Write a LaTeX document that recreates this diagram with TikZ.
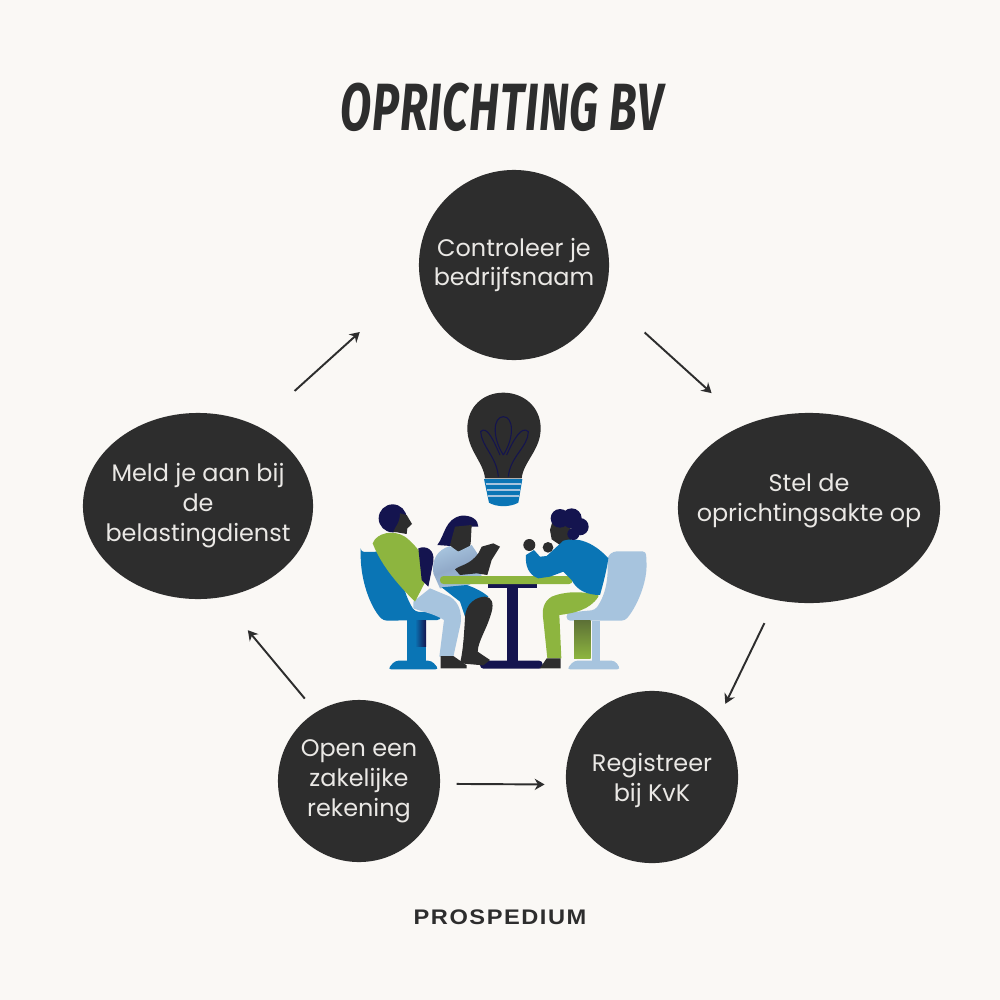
\documentclass[tikz,border=0pt]{standalone}
\usepackage{fontspec}
\usepackage{xcolor}
\usepackage{tikz}
\usetikzlibrary{arrows.meta,shapes.geometric}
\setmainfont{Poppins}
\newfontfamily\titlefont[LetterSpace=2]{Fira Sans}
\newfontfamily\merkfont[LetterSpace=6.5]{Liberation Sans}
\definecolor{paper}{HTML}{FAF8F5}
\definecolor{coal}{HTML}{2D2D2D}
\definecolor{navy}{HTML}{14144F}
\definecolor{ocean}{HTML}{0A75B5}
\definecolor{sky}{HTML}{A7C4DE}
\definecolor{lime}{HTML}{8DB53F}
\tikzset{
  stepc/.style={circle, fill=coal, text=paper!92!coal, inner sep=-1cm, align=center, font=\fontsize{6.8}{8.5}\selectfont},
  stepe/.style={ellipse, fill=coal, text=paper!92!coal, inner sep=-1cm, align=center, font=\fontsize{6.8}{8.5}\selectfont},
  flow/.style={draw=coal, line width=0.55pt, -{Stealth[length=2.8pt,width=3.2pt]}},
}
\begin{document}
\begin{tikzpicture}[x=0.01cm,y=-0.01cm]
  \fill[paper] (0,0) rectangle (1000,1000);
  \useasboundingbox (0,0) rectangle (1000,1000);

  \node[text=coal, font=\titlefont\bfseries\itshape\fontsize{19}{20}\selectfont, xscale=0.68] (titel) at (502,107) {OPRICHTING BV};

  \node[stepc, minimum size=1.9cm] (naam) at (514,265) {Controleer je\\bedrijfsnaam};
  \node[stepe, minimum width=2.62cm, minimum height=1.9cm, text depth=0.2cm] (akte) at (809,508) {Stel de\\oprichtingsakte op};
  \node[stepc, minimum size=1.7cm, text depth=-0.15cm] (kvk) at (652,777) {Registreer\\bij KvK};
  \node[stepc, minimum size=1.62cm] (rekening) at (359,781) {Open een\\zakelijke\\rekening};
  \node[stepe, minimum width=2.3cm, minimum height=1.86cm] (belasting) at (198,506) {Meld je aan bij\\de\\belastingdienst};

  \draw[flow, shorten <=0.54cm, shorten >=0.46cm] (naam.-19) -- (akte.127);
  \draw[flow, shorten <=0.25cm, shorten >=0.18cm] (akte.-110) -- (kvk.41);
  \draw[flow, shorten <=0.16cm, shorten >=0.21cm] (rekening.-2) -- (kvk.-175);
  \draw[flow, shorten <=0.17cm, shorten >=0.42cm] (rekening.122) -- (belasting.-76);
  \draw[flow, shorten <=0.51cm, shorten >=0.80cm] (belasting.54) -- (naam.188);

  \node[text=coal, font=\merkfont\bfseries\fontsize{6}{7}\selectfont, xscale=1.12] (merk) at (500,917) {PROSPEDIUM};

  % lamp and table group
  \begin{scope}[shift={(350,380)},x=0.01cm/3,y=-0.01cm/3]
    % bulb
    \fill[coal] (405,295) .. controls (400,245) and (352,210) .. (352,145) .. controls (352,80) and (400,38) .. (460,38) .. controls (520,38) and (572,80) .. (572,145) .. controls (572,210) and (520,245) .. (515,295) -- cycle;
    \draw[navy, line width=0.3pt] (445,290) .. controls (440,230) and (395,200) .. (392,155) .. controls (410,135) and (430,180) .. (450,225);
    \draw[navy, line width=0.3pt] (475,290) .. controls (480,230) and (535,200) .. (535,155) .. controls (515,135) and (490,180) .. (470,225);
    \draw[navy, line width=0.3pt] (460,225) .. controls (425,170) and (430,110) .. (460,110) .. controls (490,110) and (495,170) .. (460,225);
    \fill[ocean] (402,297) -- (517,297) -- (505,368) .. controls (480,382) and (440,382) .. (417,368) -- cycle;
    \foreach \yb/\xl/\xr in {312/407/513, 330/410/510, 348/413/507}
      \draw[sky, line width=0.45pt] (\xl,\yb) -- (\xr,\yb);

    % right chair
    \fill[sky, rounded corners=1pt] (790,514) -- (888,514) -- (890,560) .. controls (885,620) and (860,680) .. (825,722) -- (650,722) -- (650,698) -- (735,690) .. controls (770,640) and (775,590) .. (772,530) -- cycle;
    \fill[sky] (725,722) rectangle (750,845);
    \fill[sky, rounded corners=1pt] (650,868) -- (672,842) -- (795,842) -- (812,868) -- cycle;

    % left chair
    \fill[ocean, rounded corners=1pt] (32,516) -- (145,514) .. controls (150,590) and (165,650) .. (195,695) -- (277,698) -- (272,720) -- (100,722) .. controls (60,680) and (32,600) .. (32,516) -- cycle;
    \fill[ocean] (172,720) rectangle (205,845);
    \shade[left color=ocean, right color=navy] (195,722) rectangle (228,800);
    \fill[ocean] (205,800) rectangle (228,845);
    \fill[ocean, rounded corners=1pt] (113,868) -- (135,842) -- (245,842) -- (267,868) -- cycle;

    % table
    \fill[navy] (472,620) rectangle (503,850);
    \fill[navy] (415,610) rectangle (562,625);
    \fill[navy, rounded corners=1pt] (390,842) rectangle (578,866);

    % left man
    \fill[sky] (190,665) -- (240,625) -- (300,650) .. controls (330,670) and (335,700) .. (332,730) -- (310,830) -- (268,830) -- (282,720) .. controls (250,700) and (215,695) .. (190,685) -- cycle;
    \fill[coal] (272,828) -- (310,828) -- (350,856) -- (350,865) -- (272,865) -- cycle;
    \fill[lime] (68,490) .. controls (80,458) and (130,448) .. (165,470) .. controls (205,500) and (235,550) .. (240,578) -- (195,665) .. controls (150,620) and (95,560) .. (68,490) -- cycle;
    \fill[navy] (128,415) circle [radius=42*0.01cm/3];
    \fill[coal] (130,455) -- (170,462) -- (172,445) -- (186,432) -- (170,405) -- (150,400) .. controls (150,430) and (135,440) .. (130,455) -- cycle;

    % woman
    \fill[navy] (205,505) .. controls (230,495) and (255,510) .. (250,545) -- (235,620) -- (215,600) -- cycle;
    \fill[navy] (262,495) .. controls (285,465) and (285,415) .. (335,407) .. controls (365,405) and (385,420) .. (385,440) -- (360,440) -- (330,500) -- cycle;
    \fill[coal] (315,440) -- (365,435) -- (362,490) -- (355,515) -- (320,515) -- (300,495) -- cycle;
    \shade[left color=sky, right color=sky, middle color=sky!85!navy, shading angle=200] (250,580) .. controls (245,540) and (260,510) .. (300,498) -- (325,515) -- (365,495) -- (385,525) -- (395,590) -- (350,620) -- (270,625) -- cycle;
    \fill[ocean] (275,622) -- (350,615) .. controls (380,625) and (405,640) .. (415,650) -- (345,710) -- (330,665) -- cycle;
    \fill[coal] (345,715) .. controls (345,670) and (380,650) .. (405,650) .. controls (425,650) and (432,670) .. (425,695) .. controls (410,750) and (385,780) .. (383,815) -- (420,840) -- (400,856) -- (330,850) .. controls (340,810) and (342,760) .. (345,715) -- cycle;
    \fill[coal] (315,568) .. controls (330,555) and (360,555) .. (385,520) -- (395,500) -- (430,490) -- (450,500) -- (425,540) -- (412,585) -- (380,580) -- (330,585) -- cycle;

    % table top over the arms
    \fill[lime, rounded corners=1pt] (270,588) rectangle (668,612);

    % right man
    \shade[top color=lime!50!coal, bottom color=lime] (672,722) rectangle (722,835);
    \fill[lime] (745,645) .. controls (690,632) and (640,635) .. (605,650) .. controls (580,665) and (575,690) .. (580,720) -- (592,835) -- (634,835) -- (628,705) .. controls (670,700) and (720,690) .. (745,650) -- cycle;
    \fill[coal] (590,835) -- (632,835) -- (632,865) -- (570,865) -- cycle;
    \fill[coal] (600,450) -- (607,425) -- (660,430) -- (665,478) -- (630,495) -- (605,478) -- cycle;
    \fill[ocean] (528,525) -- (552,510) -- (570,530) -- (590,528) -- (640,482) .. controls (680,470) and (730,485) .. (775,535) .. controls (770,570) and (760,610) .. (750,645) .. controls (710,645) and (680,630) .. (665,600) -- (640,575) -- (600,590) -- (565,595) .. controls (535,585) and (525,555) .. (528,525) -- cycle;
    \fill[coal] (538,495) circle [radius=18*0.01cm/3];
    \fill[coal] (594,502) circle [radius=16*0.01cm/3];
    \fill[navy] (630,415) circle [radius=28*0.01cm/3];
    \fill[navy] (665,415) circle [radius=30*0.01cm/3];
    \fill[navy] (690,440) circle [radius=26*0.01cm/3];
    \fill[navy] (670,462) circle [radius=18*0.01cm/3];
  \end{scope}
\end{tikzpicture}
\end{document}
